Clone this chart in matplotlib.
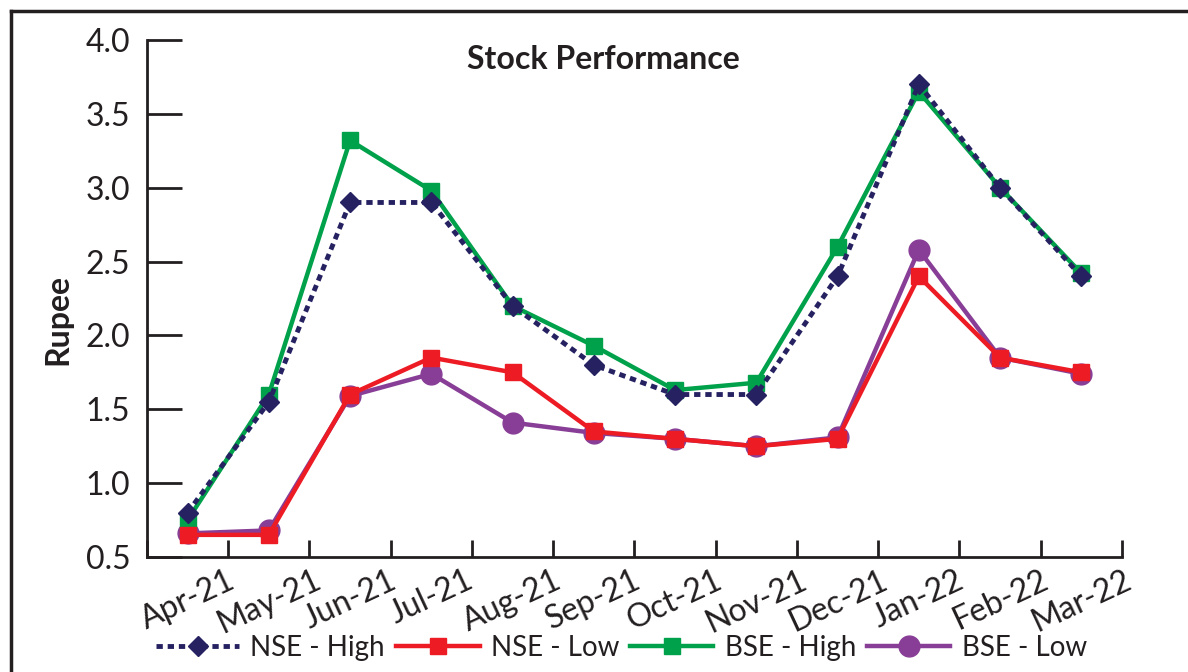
import numpy as np
import matplotlib.pyplot as plt
from matplotlib.lines import Line2D

months = ['Apr-21', 'May-21', 'Jun-21', 'Jul-21', 'Aug-21', 'Sep-21',
          'Oct-21', 'Nov-21', 'Dec-21', 'Jan-22', 'Feb-22', 'Mar-22']
nse_high = [0.8, 1.55, 2.9, 2.9, 2.2, 1.8, 1.6, 1.6, 2.4, 3.7, 3.0, 2.4]
nse_low = [0.65, 0.65, 1.6, 1.85, 1.75, 1.35, 1.3, 1.25, 1.3, 2.4, 1.85, 1.75]
bse_high = [0.75, 1.6, 3.32, 2.98, 2.2, 1.93, 1.63, 1.68, 2.6, 3.65, 3.0, 2.42]
bse_low = [0.66, 0.68, 1.59, 1.74, 1.41, 1.34, 1.3, 1.25, 1.31, 2.58, 1.85, 1.74]

plt.rcParams['font.family'] = ['Lato', 'DejaVu Sans']
dark = '#231f20'

fig = plt.figure(figsize=(11.88, 6.72), dpi=100)
ax = fig.add_axes([0.1237, 0.1711, 0.8207, 0.7694])

x = np.arange(len(months))
ax.plot(x, nse_high, color='#262262', lw=3.5, ls=(0, (1.3, 1.0)),
        marker='D', ms=10, label='NSE - High', zorder=5)
ax.plot(x, nse_low, color='#ed1c24', lw=3.2, marker='s', ms=11,
        label='NSE - Low', zorder=4)
ax.plot(x, bse_high, color='#00a14b', lw=3.2, marker='s', ms=11,
        label='BSE - High', zorder=3)
ax.plot(x, bse_low, color='#883e96', lw=3.2, marker='o', ms=15,
        label='BSE - Low', zorder=2)

ax.set_xlim(-0.5, len(months) - 0.5)
ax.set_ylim(0.5, 4.0)
yt = np.arange(0.5, 4.01, 0.5)
ax.set_yticks(yt)
ax.set_yticklabels([f'{v:.1f}' for v in yt])
ax.set_xticks(x)
ax.set_xticklabels(months, rotation=25, ha='center', fontsize=23, color=dark)
ax.set_xticks(np.arange(-0.5, len(months)), minor=True)
ax.tick_params(axis='x', which='major', length=0, pad=6)
ax.tick_params(axis='x', which='minor', direction='in', length=12, width=2, color=dark)
ax.tick_params(axis='y', direction='in', length=25, width=2, color=dark,
               labelsize=23, labelcolor=dark, pad=12)

for s in ['top', 'right']:
    ax.spines[s].set_visible(False)
for s in ['left', 'bottom']:
    ax.spines[s].set_linewidth(2)
    ax.spines[s].set_color(dark)

ax.set_ylabel('Rupee', fontsize=23, fontweight='bold', color=dark)
ax.yaxis.set_label_coords(-0.076, 0.46)
fig.text(0.508, 0.912, 'Stock Performance', ha='center', va='center',
         fontsize=23, fontweight='bold', color=dark)

fig.legend(loc='center', bbox_to_anchor=(0.523, 0.036), ncol=4, frameon=False,
           fontsize=20, handlelength=3.0, handletextpad=0.4, columnspacing=0.4,
           labelcolor=dark)

# figure frame (left and top edges visible)
fig.add_artist(Line2D([11 / 1188, 11 / 1188], [0, 1 - 11 / 672],
                      transform=fig.transFigure, color=dark, lw=2.5))
fig.add_artist(Line2D([11 / 1188, 1], [1 - 11 / 672, 1 - 11 / 672],
                      transform=fig.transFigure, color=dark, lw=2.5))

fig.savefig('out.png', dpi=100)
